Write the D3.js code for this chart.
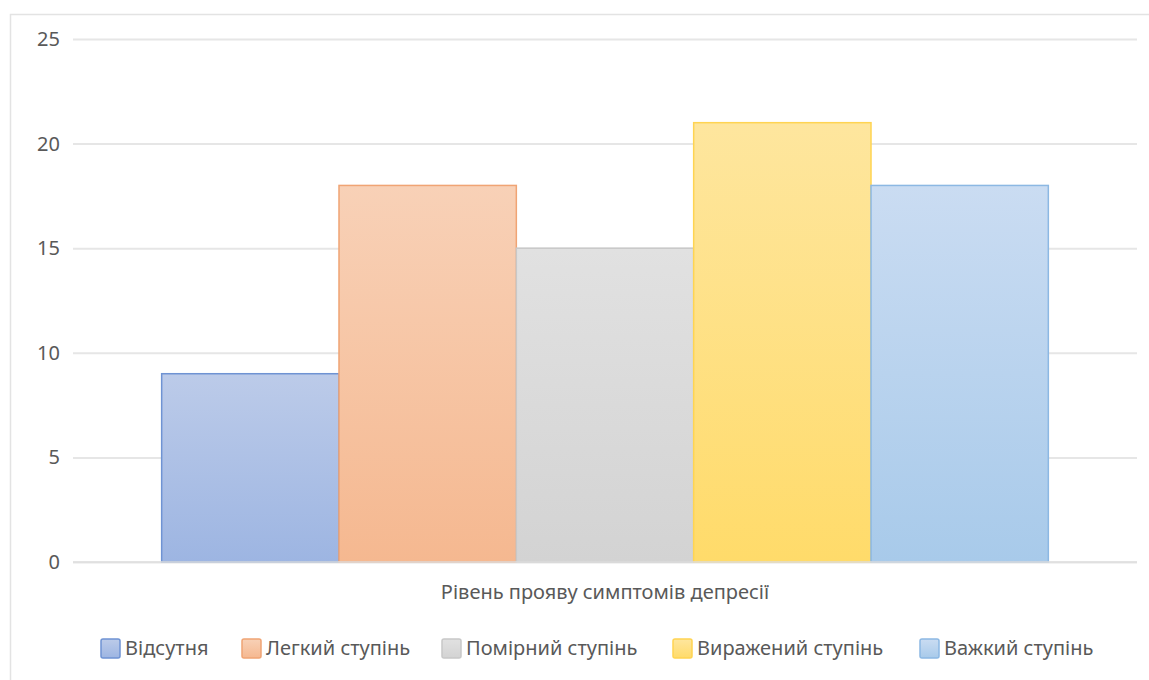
<!DOCTYPE html>
<html>
<head>
<meta charset="utf-8">
<script src="https://cdnjs.cloudflare.com/ajax/libs/d3/7.8.5/d3.min.js"></script>
<style>
  body { margin: 0; background: #fff; }
  text { font-family: "Noto Sans", "Open Sans", sans-serif; fill: #595959; }
</style>
</head>
<body>
<div class="canvas"></div>
<script>
// data
const category = 'Рівень прояву симптомів депресії';
const seriesNames = ['Відсутня', 'Легкий ступінь', 'Помірний ступінь', 'Виражений ступінь', 'Важкий ступінь'];
const seriesValues = [9, 18, 15, 21, 18];
const yTicks = [0, 5, 10, 15, 20, 25];

// colours: [top, bottom, stroke]
const colours = [
  ['#bccbe9', '#9db5e2', '#6f93d3'],
  ['#f8d1b7', '#f5b890', '#f0a474'],
  ['#e1e1e1', '#d3d3d3', '#c8c8c8'],
  ['#fee69e', '#ffdb6a', '#ffd452'],
  ['#cadcf2', '#a8caea', '#8cb8e3']
];

const width = 1149, height = 680;
const svg = d3.select('.canvas')
  .append('svg')
  .attr('width', width)
  .attr('height', height);

// chart outline
svg.append('rect')
  .attr('x', 10.5).attr('y', 14.5)
  .attr('width', 1160).attr('height', 700)
  .attr('fill', 'none')
  .attr('stroke', '#e3e3e3')
  .attr('stroke-width', 1.5);

const margin = { top: 39, right: 12, bottom: 118, left: 73 };
const graphWidth = width - margin.left - margin.right;
const graphHeight = height - margin.top - margin.bottom;

const graph = svg.append('g')
  .attr('transform', `translate(${margin.left}, ${margin.top})`);

const y = d3.scaleLinear()
  .domain([0, 25])
  .range([graphHeight, 0]);

// one category, series side by side (gap width 100%)
const x0 = d3.scaleBand()
  .domain([category])
  .range([0, graphWidth]);

const x1 = d3.scaleBand()
  .domain(seriesNames)
  .range([x0(category) + graphWidth / 12, x0(category) + x0.bandwidth() - graphWidth / 12])
  .paddingInner(0);

// gradients
const defs = svg.append('defs');
colours.forEach((c, i) => {
  const g = defs.append('linearGradient')
    .attr('id', 'grad' + i)
    .attr('x1', 0).attr('y1', 0).attr('x2', 0).attr('y2', 1);
  g.append('stop').attr('offset', '0%').attr('stop-color', c[0]);
  g.append('stop').attr('offset', '100%').attr('stop-color', c[1]);
});

// gridlines + y axis
const yAxis = d3.axisLeft(y)
  .tickValues(yTicks)
  .tickSize(-graphWidth)
  .tickPadding(13);

const yAxisGroup = graph.append('g').call(yAxis);
yAxisGroup.select('.domain').remove();
yAxisGroup.selectAll('line')
  .attr('stroke', '#e6e6e6')
  .attr('stroke-width', 2);
yAxisGroup.selectAll('text')
  .attr('font-size', 20)
  .attr('fill', '#595959');

// bars
graph.selectAll('rect.bar')
  .data(seriesValues)
  .enter()
  .append('rect')
  .attr('class', 'bar')
  .attr('x', (d, i) => x1(seriesNames[i]))
  .attr('y', d => y(d))
  .attr('width', x1.bandwidth())
  .attr('height', d => graphHeight - y(d))
  .attr('fill', (d, i) => `url(#grad${i})`)
  .attr('stroke', (d, i) => colours[i][2])
  .attr('stroke-width', 1.5);

// baseline
graph.append('line')
  .attr('x1', 0).attr('x2', graphWidth)
  .attr('y1', y(0)).attr('y2', y(0))
  .attr('stroke', '#dedede')
  .attr('stroke-width', 1.5);

// category label
graph.append('text')
  .attr('x', x0(category) + x0.bandwidth() / 2)
  .attr('y', graphHeight + 37)
  .attr('text-anchor', 'middle')
  .attr('font-size', 20)
  .text(category);

// legend
const legendX = [100, 241, 441, 672, 919];
const legend = svg.append('g')
  .attr('transform', 'translate(0, 648)');

const items = legend.selectAll('g')
  .data(seriesNames)
  .enter()
  .append('g')
  .attr('transform', (d, i) => `translate(${legendX[i]}, 0)`);

items.append('rect')
  .attr('x', 1).attr('y', -9)
  .attr('width', 19).attr('height', 19)
  .attr('rx', 2)
  .attr('fill', (d, i) => `url(#grad${i})`)
  .attr('stroke', (d, i) => colours[i][2])
  .attr('stroke-width', 1.5);

items.append('text')
  .attr('x', 25)
  .attr('y', 7)
  .attr('font-size', 20)
  .text(d => d);
</script>
</body>
</html>
